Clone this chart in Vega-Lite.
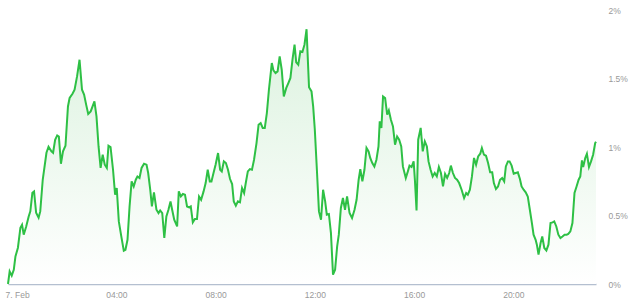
{
  "$schema": "https://vega.github.io/schema/vega-lite/v6.json",
  "width": 588,
  "height": 274,
  "autosize": {"type": "none"},
  "padding": {"left": 8, "top": 10, "right": 44, "bottom": 21},
  "background": "#ffffff",
  "config": {
    "view": {"stroke": null},
    "axis": {"labelFont": "Liberation Sans", "labelFontSize": 8.5, "labelColor": "#999999", "grid": false, "ticks": false}
  },
  "data": {"values": [
    {"t":"2024-02-06T23:38","v":0.0},{"t":"2024-02-06T23:42","v":0.092},{"t":"2024-02-06T23:47","v":0.061},{"t":"2024-02-06T23:52","v":0.104},{"t":"2024-02-06T23:56","v":0.201},
    {"t":"2024-02-07T00:02","v":0.265},{"t":"2024-02-07T00:08","v":0.411},{"t":"2024-02-07T00:12","v":0.433},{"t":"2024-02-07T00:16","v":0.360},{"t":"2024-02-07T00:22","v":0.420},
    {"t":"2024-02-07T00:28","v":0.493},{"t":"2024-02-07T00:32","v":0.530},{"t":"2024-02-07T00:37","v":0.666},{"t":"2024-02-07T00:41","v":0.676},{"t":"2024-02-07T00:46","v":0.520},
    {"t":"2024-02-07T00:52","v":0.484},{"t":"2024-02-07T00:56","v":0.530},{"t":"2024-02-07T01:02","v":0.761},{"t":"2024-02-07T01:11","v":0.958},{"t":"2024-02-07T01:16","v":1.002},
    {"t":"2024-02-07T01:23","v":0.968},{"t":"2024-02-07T01:27","v":0.958},{"t":"2024-02-07T01:32","v":1.053},{"t":"2024-02-07T01:37","v":1.085},{"t":"2024-02-07T01:41","v":1.077},
    {"t":"2024-02-07T01:46","v":0.878},{"t":"2024-02-07T01:51","v":0.968},{"t":"2024-02-07T01:57","v":1.009},{"t":"2024-02-07T02:03","v":1.296},{"t":"2024-02-07T02:07","v":1.358},
    {"t":"2024-02-07T02:14","v":1.389},{"t":"2024-02-07T02:19","v":1.418},{"t":"2024-02-07T02:25","v":1.515},{"t":"2024-02-07T02:31","v":1.637},{"t":"2024-02-07T02:37","v":1.418},
    {"t":"2024-02-07T02:42","v":1.382},{"t":"2024-02-07T02:47","v":1.309},{"t":"2024-02-07T02:52","v":1.241},{"t":"2024-02-07T02:58","v":1.260},{"t":"2024-02-07T03:07","v":1.333},
    {"t":"2024-02-07T03:12","v":1.223},{"t":"2024-02-07T03:17","v":1.004},{"t":"2024-02-07T03:22","v":0.847},{"t":"2024-02-07T03:27","v":0.944},{"t":"2024-02-07T03:32","v":0.871},
    {"t":"2024-02-07T03:37","v":0.847},{"t":"2024-02-07T03:41","v":1.009},{"t":"2024-02-07T03:46","v":1.0},{"t":"2024-02-07T03:52","v":0.834},{"t":"2024-02-07T03:57","v":0.652},
    {"t":"2024-02-07T04:01","v":0.701},{"t":"2024-02-07T04:06","v":0.457},{"t":"2024-02-07T04:12","v":0.347},{"t":"2024-02-07T04:18","v":0.243},{"t":"2024-02-07T04:22","v":0.250},
    {"t":"2024-02-07T04:27","v":0.323},{"t":"2024-02-07T04:32","v":0.566},{"t":"2024-02-07T04:37","v":0.749},{"t":"2024-02-07T04:42","v":0.712},{"t":"2024-02-07T04:47","v":0.761},
    {"t":"2024-02-07T04:51","v":0.785},{"t":"2024-02-07T04:56","v":0.774},{"t":"2024-02-07T05:01","v":0.847},{"t":"2024-02-07T05:07","v":0.878},{"t":"2024-02-07T05:13","v":0.871},
    {"t":"2024-02-07T05:17","v":0.810},{"t":"2024-02-07T05:22","v":0.688},{"t":"2024-02-07T05:26","v":0.566},{"t":"2024-02-07T05:31","v":0.669},{"t":"2024-02-07T05:37","v":0.542},
    {"t":"2024-02-07T05:42","v":0.518},{"t":"2024-02-07T05:46","v":0.537},{"t":"2024-02-07T05:51","v":0.518},{"t":"2024-02-07T05:56","v":0.336},{"t":"2024-02-07T06:01","v":0.493},
    {"t":"2024-02-07T06:06","v":0.542},{"t":"2024-02-07T06:11","v":0.603},{"t":"2024-02-07T06:15","v":0.542},{"t":"2024-02-07T06:20","v":0.469},{"t":"2024-02-07T06:27","v":0.420},
    {"t":"2024-02-07T06:31","v":0.676},{"t":"2024-02-07T06:36","v":0.639},{"t":"2024-02-07T06:41","v":0.657},{"t":"2024-02-07T06:46","v":0.652},{"t":"2024-02-07T06:51","v":0.566},
    {"t":"2024-02-07T06:56","v":0.559},{"t":"2024-02-07T07:00","v":0.566},{"t":"2024-02-07T07:05","v":0.450},{"t":"2024-02-07T07:10","v":0.474},{"t":"2024-02-07T07:15","v":0.474},
    {"t":"2024-02-07T07:20","v":0.639},{"t":"2024-02-07T07:25","v":0.615},{"t":"2024-02-07T07:31","v":0.676},{"t":"2024-02-07T07:36","v":0.737},{"t":"2024-02-07T07:41","v":0.834},
    {"t":"2024-02-07T07:46","v":0.749},{"t":"2024-02-07T07:50","v":0.749},{"t":"2024-02-07T07:55","v":0.810},{"t":"2024-02-07T08:00","v":0.871},{"t":"2024-02-07T08:06","v":0.956},
    {"t":"2024-02-07T08:11","v":0.834},{"t":"2024-02-07T08:15","v":0.822},{"t":"2024-02-07T08:20","v":0.895},{"t":"2024-02-07T08:25","v":0.883},{"t":"2024-02-07T08:30","v":0.834},
    {"t":"2024-02-07T08:35","v":0.766},{"t":"2024-02-07T08:40","v":0.730},{"t":"2024-02-07T08:44","v":0.603},{"t":"2024-02-07T08:49","v":0.572},{"t":"2024-02-07T08:54","v":0.603},
    {"t":"2024-02-07T08:59","v":0.596},{"t":"2024-02-07T09:04","v":0.701},{"t":"2024-02-07T09:09","v":0.664},{"t":"2024-02-07T09:13","v":0.737},{"t":"2024-02-07T09:18","v":0.822},
    {"t":"2024-02-07T09:23","v":0.839},{"t":"2024-02-07T09:28","v":0.834},{"t":"2024-02-07T09:33","v":0.907},{"t":"2024-02-07T09:39","v":1.029},{"t":"2024-02-07T09:44","v":1.163},
    {"t":"2024-02-07T09:49","v":1.175},{"t":"2024-02-07T09:54","v":1.139},{"t":"2024-02-07T09:59","v":1.139},{"t":"2024-02-07T10:04","v":1.248},{"t":"2024-02-07T10:09","v":1.418},
    {"t":"2024-02-07T10:16","v":1.613},{"t":"2024-02-07T10:20","v":1.559},{"t":"2024-02-07T10:25","v":1.540},{"t":"2024-02-07T10:30","v":1.552},{"t":"2024-02-07T10:35","v":1.661},
    {"t":"2024-02-07T10:40","v":1.564},{"t":"2024-02-07T10:45","v":1.369},{"t":"2024-02-07T10:51","v":1.431},{"t":"2024-02-07T10:56","v":1.467},{"t":"2024-02-07T11:01","v":1.504},
    {"t":"2024-02-07T11:06","v":1.637},{"t":"2024-02-07T11:11","v":1.747},{"t":"2024-02-07T11:15","v":1.618},{"t":"2024-02-07T11:20","v":1.601},{"t":"2024-02-07T11:25","v":1.698},
    {"t":"2024-02-07T11:30","v":1.693},{"t":"2024-02-07T11:35","v":1.747},{"t":"2024-02-07T11:40","v":1.860},{"t":"2024-02-07T11:46","v":1.436},{"t":"2024-02-07T11:52","v":1.406},
    {"t":"2024-02-07T11:56","v":1.296},{"t":"2024-02-07T12:00","v":1.126},{"t":"2024-02-07T12:05","v":0.834},{"t":"2024-02-07T12:10","v":0.530},{"t":"2024-02-07T12:15","v":0.469},
    {"t":"2024-02-07T12:20","v":0.688},{"t":"2024-02-07T12:25","v":0.603},{"t":"2024-02-07T12:29","v":0.506},{"t":"2024-02-07T12:34","v":0.511},{"t":"2024-02-07T12:39","v":0.372},
    {"t":"2024-02-07T12:44","v":0.068},{"t":"2024-02-07T12:49","v":0.104},{"t":"2024-02-07T12:54","v":0.274},{"t":"2024-02-07T12:58","v":0.360},{"t":"2024-02-07T13:03","v":0.555},
    {"t":"2024-02-07T13:08","v":0.628},{"t":"2024-02-07T13:13","v":0.542},{"t":"2024-02-07T13:18","v":0.639},{"t":"2024-02-07T13:24","v":0.518},{"t":"2024-02-07T13:30","v":0.482},
    {"t":"2024-02-07T13:36","v":0.542},{"t":"2024-02-07T13:41","v":0.615},{"t":"2024-02-07T13:46","v":0.761},{"t":"2024-02-07T13:50","v":0.839},{"t":"2024-02-07T13:55","v":0.749},
    {"t":"2024-02-07T14:00","v":0.834},{"t":"2024-02-07T14:05","v":0.993},{"t":"2024-02-07T14:10","v":0.968},{"t":"2024-02-07T14:14","v":0.920},{"t":"2024-02-07T14:19","v":0.883},
    {"t":"2024-02-07T14:24","v":0.858},{"t":"2024-02-07T14:29","v":0.907},{"t":"2024-02-07T14:34","v":1.004},{"t":"2024-02-07T14:37","v":1.187},{"t":"2024-02-07T14:41","v":1.139},
    {"t":"2024-02-07T14:45","v":1.369},{"t":"2024-02-07T14:50","v":1.358},{"t":"2024-02-07T14:55","v":1.236},{"t":"2024-02-07T14:59","v":1.267},{"t":"2024-02-07T15:04","v":1.199},
    {"t":"2024-02-07T15:09","v":1.150},{"t":"2024-02-07T15:14","v":1.017},{"t":"2024-02-07T15:19","v":1.077},{"t":"2024-02-07T15:24","v":1.053},{"t":"2024-02-07T15:29","v":1.004},
    {"t":"2024-02-07T15:33","v":0.858},{"t":"2024-02-07T15:40","v":0.774},{"t":"2024-02-07T15:45","v":0.822},{"t":"2024-02-07T15:49","v":0.864},{"t":"2024-02-07T15:54","v":0.854},
    {"t":"2024-02-07T15:59","v":0.895},{"t":"2024-02-07T16:02","v":0.761},{"t":"2024-02-07T16:06","v":0.537},{"t":"2024-02-07T16:10","v":1.053},{"t":"2024-02-07T16:16","v":1.139},
    {"t":"2024-02-07T16:21","v":0.968},{"t":"2024-02-07T16:26","v":1.041},{"t":"2024-02-07T16:31","v":1.004},{"t":"2024-02-07T16:35","v":0.895},{"t":"2024-02-07T16:40","v":0.834},
    {"t":"2024-02-07T16:45","v":0.785},{"t":"2024-02-07T16:50","v":0.810},{"t":"2024-02-07T16:55","v":0.785},{"t":"2024-02-07T17:00","v":0.854},{"t":"2024-02-07T17:05","v":0.810},
    {"t":"2024-02-07T17:10","v":0.712},{"t":"2024-02-07T17:15","v":0.803},{"t":"2024-02-07T17:20","v":0.774},{"t":"2024-02-07T17:25","v":0.810},{"t":"2024-02-07T17:29","v":0.864},
    {"t":"2024-02-07T17:34","v":0.810},{"t":"2024-02-07T17:39","v":0.774},{"t":"2024-02-07T17:44","v":0.761},{"t":"2024-02-07T17:49","v":0.737},{"t":"2024-02-07T17:55","v":0.688},
    {"t":"2024-02-07T18:01","v":0.628},{"t":"2024-02-07T18:06","v":0.664},{"t":"2024-02-07T18:10","v":0.652},{"t":"2024-02-07T18:15","v":0.688},{"t":"2024-02-07T18:20","v":0.785},
    {"t":"2024-02-07T18:25","v":0.920},{"t":"2024-02-07T18:30","v":0.871},{"t":"2024-02-07T18:35","v":0.931},{"t":"2024-02-07T18:40","v":0.951},{"t":"2024-02-07T18:44","v":0.993},
    {"t":"2024-02-07T18:49","v":0.944},{"t":"2024-02-07T18:54","v":0.936},{"t":"2024-02-07T18:59","v":0.883},{"t":"2024-02-07T19:04","v":0.815},{"t":"2024-02-07T19:09","v":0.815},
    {"t":"2024-02-07T19:13","v":0.737},{"t":"2024-02-07T19:18","v":0.693},{"t":"2024-02-07T19:23","v":0.712},{"t":"2024-02-07T19:28","v":0.761},{"t":"2024-02-07T19:33","v":0.774},
    {"t":"2024-02-07T19:38","v":0.749},{"t":"2024-02-07T19:42","v":0.858},{"t":"2024-02-07T19:47","v":0.895},{"t":"2024-02-07T19:51","v":0.895},{"t":"2024-02-07T19:56","v":0.864},
    {"t":"2024-02-07T20:01","v":0.805},{"t":"2024-02-07T20:06","v":0.810},{"t":"2024-02-07T20:11","v":0.815},{"t":"2024-02-07T20:16","v":0.766},{"t":"2024-02-07T20:20","v":0.712},
    {"t":"2024-02-07T20:25","v":0.688},{"t":"2024-02-07T20:30","v":0.669},{"t":"2024-02-07T20:35","v":0.639},{"t":"2024-02-07T20:40","v":0.542},{"t":"2024-02-07T20:45","v":0.445},
    {"t":"2024-02-07T20:49","v":0.360},{"t":"2024-02-07T20:54","v":0.323},{"t":"2024-02-07T20:57","v":0.287},{"t":"2024-02-07T21:01","v":0.214},{"t":"2024-02-07T21:06","v":0.299},
    {"t":"2024-02-07T21:10","v":0.347},{"t":"2024-02-07T21:15","v":0.263},{"t":"2024-02-07T21:20","v":0.245},{"t":"2024-02-07T21:25","v":0.287},{"t":"2024-02-07T21:30","v":0.445},
    {"t":"2024-02-07T21:35","v":0.450},{"t":"2024-02-07T21:39","v":0.457},{"t":"2024-02-07T21:44","v":0.420},{"t":"2024-02-07T21:49","v":0.360},{"t":"2024-02-07T21:54","v":0.336},
    {"t":"2024-02-07T21:59","v":0.347},{"t":"2024-02-07T22:04","v":0.360},{"t":"2024-02-07T22:09","v":0.360},{"t":"2024-02-07T22:13","v":0.365},{"t":"2024-02-07T22:18","v":0.384},
    {"t":"2024-02-07T22:23","v":0.445},{"t":"2024-02-07T22:28","v":0.664},{"t":"2024-02-07T22:33","v":0.712},{"t":"2024-02-07T22:38","v":0.761},{"t":"2024-02-07T22:42","v":0.785},
    {"t":"2024-02-07T22:46","v":0.902},{"t":"2024-02-07T22:49","v":0.854},{"t":"2024-02-07T22:54","v":0.920},{"t":"2024-02-07T22:58","v":0.951},{"t":"2024-02-07T23:03","v":0.854},
    {"t":"2024-02-07T23:08","v":0.895},{"t":"2024-02-07T23:13","v":0.944},{"t":"2024-02-07T23:18","v":1.029},{"t":"2024-02-07T23:20","v":1.039}
  ]},
  "encoding": {
    "x": {
      "field": "t", "type": "temporal", "title": null,
      "scale": {"nice": false},
      "axis": {
        "values": [
          {"year": 2024, "month": "feb", "date": 7, "hours": 0},
          {"year": 2024, "month": "feb", "date": 7, "hours": 4},
          {"year": 2024, "month": "feb", "date": 7, "hours": 8},
          {"year": 2024, "month": "feb", "date": 7, "hours": 12},
          {"year": 2024, "month": "feb", "date": 7, "hours": 16},
          {"year": 2024, "month": "feb", "date": 7, "hours": 20}
        ],
        "labelExpr": "hours(datum.value) == 0 ? timeFormat(datum.value, '%-d. %b') : timeFormat(datum.value, '%H:%M')",
        "domainColor": "#b4bfd0", "domainWidth": 1.5, "labelPadding": 6, "labelOverlap": false
      }
    },
    "y": {
      "field": "v", "type": "quantitative", "title": null,
      "scale": {"domain": [0, 2], "nice": false},
      "axis": {"orient": "right", "values": [0, 0.5, 1, 1.5, 2], "labelExpr": "datum.value + '%'", "domain": false, "labelPadding": 12}
    }
  },
  "layer": [
    {"mark": {"type": "area", "color": {"gradient": "linear", "x1": 0, "y1": 0, "x2": 0, "y2": 1, "stops": [{"offset": 0, "color": "#dcf2df"}, {"offset": 1, "color": "#ffffff"}]}}},
    {"mark": {"type": "line", "color": "#2ec045", "strokeWidth": 2}}
  ]
}
